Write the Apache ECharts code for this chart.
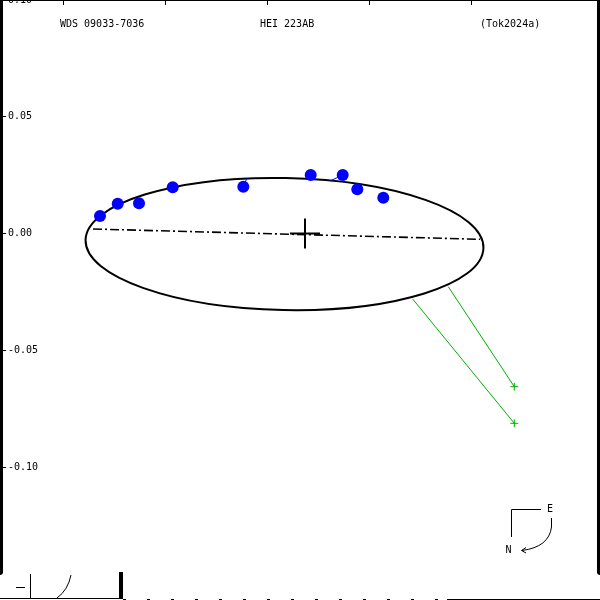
<!DOCTYPE html>
<html>
<head>
<meta charset="utf-8">
<script src="https://cdn.jsdelivr.net/npm/echarts@6/dist/echarts.min.js"></script>
<style>html,body{margin:0;padding:0;background:#fff}#c{width:600px;height:600px}</style>
</head>
<body>
<div id="c"></div>
<script>
// ---- data (arcsec) ----
var titleLeft = 'WDS 09033-7036';
var titleMid = 'HEI 223AB';
var titleRight = '(Tok2024a)';
var yTickValues = [0.10, 0.05, 0.00, -0.05, -0.10];
var xTickValues = [-0.10364, -0.05996, -0.01627, 0.02741, 0.07109];
// orbit ellipse: centre x, centre y, semi-axis x, semi-axis y, tilt (deg, anticlockwise)
var orbitEllipse = [[-0.00878, -0.0045, 0.08522, 0.02827, -1.13]];
var lineOfNodes = [[-0.09079, 0.00193], [0.07495, -0.00248]];
var primary = [[0, 0]];
var observations = [
  [-0.08779, 0.00749], [-0.08021, 0.01276], [-0.07109, 0.01293],
  [-0.05666, 0.01979], [-0.02642, 0.02004], [0.00244, 0.02505],
  [0.01615, 0.02505], [0.02240, 0.01893], [0.03353, 0.01533]
];
var residuals = [
  [[-0.02642, 0.02004], [-0.02484, 0.02377]],
  [[0.01615, 0.02505], [0.01071, 0.02248]]
];
var greenLinks = [
  [[0.04612, -0.02805], [0.08964, -0.08129]],
  [[0.06137, -0.02278], [0.08964, -0.06561]]
];
var greenPoints = [[0.08964, -0.08129], [0.08964, -0.06561]];

var xMin = -0.130621, xMax = 0.126338, yMin = -0.144968, yMax = 0.10;
var FONT = 'DejaVu Sans Mono';

function plusRenderer(half, color, width) {
  return function (params, api) {
    var p = api.coord([api.value(0), api.value(1)]);
    return {
      type: 'group',
      children: [
        {type: 'line', shape: {x1: p[0] - half, y1: p[1], x2: p[0] + half, y2: p[1]}, style: {stroke: color, lineWidth: width}},
        {type: 'line', shape: {x1: p[0], y1: p[1] - half, x2: p[0], y2: p[1] + half}, style: {stroke: color, lineWidth: width}}
      ]
    };
  };
}

var chart = echarts.init(document.getElementById('c'), null, {renderer: 'canvas'});
chart.setOption({
  animation: false,
  backgroundColor: '#fff',
  grid: {left: 0, right: 0, top: 0, bottom: 28, outerBoundsMode: 'none', containLabel: false},
  xAxis: [
    {type: 'value', min: xMin, max: xMax, show: false, splitLine: {show: false}},
    {type: 'value', min: xMin, max: xMax, position: 'top',
      axisLine: {show: true, onZero: false, lineStyle: {color: '#000', width: 2}},
      axisTick: {show: true, inside: true, length: 5, customValues: xTickValues, lineStyle: {color: '#000', width: 1}},
      axisLabel: {show: false}, splitLine: {show: false}}
  ],
  yAxis: [
    {type: 'value', min: yMin, max: yMax, position: 'left',
      axisLine: {show: true, onZero: false, lineStyle: {color: '#000', width: 6}},
      axisTick: {show: true, inside: true, length: 6, customValues: yTickValues, lineStyle: {color: '#000', width: 1}},
      axisLabel: {show: true, inside: true, margin: 8, customValues: yTickValues, color: '#000',
        fontFamily: FONT, fontSize: 10,
        formatter: function (v) { return v.toFixed(2); }},
      splitLine: {show: false}},
    {type: 'value', min: yMin, max: yMax, position: 'right',
      axisLine: {show: true, onZero: false, lineStyle: {color: '#000', width: 6}},
      axisTick: {show: false}, axisLabel: {show: false}, splitLine: {show: false}}
  ],
  series: [
    {
      type: 'custom', name: 'orbit', data: orbitEllipse, silent: true,
      renderItem: function (params, api) {
        var c = api.coord([api.value(0), api.value(1)]);
        var s = api.size([api.value(2), api.value(3)]);
        return {
          type: 'ellipse', x: c[0], y: c[1], rotation: api.value(4) * Math.PI / 180,
          shape: {cx: 0, cy: 0, rx: s[0], ry: s[1]},
          style: {fill: null, stroke: '#000', lineWidth: 2}
        };
      },
      z: 3
    },
    {
      type: 'line', name: 'nodes', data: lineOfNodes, symbol: 'none', silent: true,
      lineStyle: {color: '#000', width: 1.6, type: [9, 3, 2, 3]}, z: 2
    },
    {
      type: 'custom', name: 'primary', data: primary, renderItem: plusRenderer(15, '#000', 2), z: 4
    },
    {
      type: 'lines', coordinateSystem: 'cartesian2d', name: 'residuals', silent: true,
      data: residuals.map(function (r) { return {coords: r}; }),
      lineStyle: {color: '#0000ff', width: 1, opacity: 1}, z: 4
    },
    {
      type: 'scatter', name: 'obs', data: observations, symbol: 'circle', symbolSize: 12,
      itemStyle: {color: '#0000ff', opacity: 1}, z: 5
    },
    {
      type: 'lines', coordinateSystem: 'cartesian2d', name: 'links', silent: true,
      data: greenLinks.map(function (r) { return {coords: r}; }),
      lineStyle: {color: '#00b000', width: 1, opacity: 1}, z: 4
    },
    {
      type: 'custom', name: 'green', data: greenPoints, renderItem: plusRenderer(4, '#00b000', 1), z: 4
    }
  ],
  graphic: [
    {type: 'text', x: 60, y: 24.5, style: {text: titleLeft, font: '10px "' + FONT + '"', fill: '#000', verticalAlign: 'middle'}},
    {type: 'text', x: 260, y: 24.5, style: {text: titleMid, font: '10px "' + FONT + '"', fill: '#000', verticalAlign: 'middle'}},
    {type: 'text', x: 480, y: 24.5, style: {text: titleRight, font: '10px "' + FONT + '"', fill: '#000', verticalAlign: 'middle'}},
    // compass
    {type: 'polyline', shape: {points: [[541, 509.5], [511.5, 509.5], [511.5, 537]]}, style: {stroke: '#000', lineWidth: 1, fill: null}},
    {type: 'text', x: 550, y: 509.5, style: {text: 'E', font: '10px "' + FONT + '"', fill: '#000', align: 'center', verticalAlign: 'middle'}},
    {type: 'text', x: 508.5, y: 550, style: {text: 'N', font: '10px "' + FONT + '"', fill: '#000', align: 'center', verticalAlign: 'middle'}},
    {type: 'line', shape: {x1: 551.5, y1: 518, x2: 551.5, y2: 527}, style: {stroke: '#000', lineWidth: 1}},
    {type: 'bezierCurve', shape: {x1: 551.5, y1: 527, cpx1: 549, cpy1: 547, x2: 522, y2: 550.5}, style: {stroke: '#000', lineWidth: 1, fill: null}},
    {type: 'polyline', shape: {points: [[526, 547.5], [521.5, 550.5], [526, 553]]}, style: {stroke: '#000', lineWidth: 1, fill: null}},
    // bottom remnants
    {type: 'line', shape: {x1: 0, y1: 598.5, x2: 120, y2: 598.5}, style: {stroke: '#000', lineWidth: 1}},
    {type: 'rect', shape: {x: 119, y: 572, width: 4, height: 27}, style: {fill: '#000'}},
    {type: 'line', shape: {x1: 30.5, y1: 574, x2: 30.5, y2: 598}, style: {stroke: '#000', lineWidth: 1}},
    {type: 'line', shape: {x1: 16, y1: 587.5, x2: 25, y2: 587.5}, style: {stroke: '#000', lineWidth: 1}},
    {type: 'bezierCurve', shape: {x1: 57, y1: 598, cpx1: 68, cpy1: 590, x2: 71, y2: 575}, style: {stroke: '#000', lineWidth: 1, fill: null}},
    {type: 'line', shape: {x1: 123, y1: 599.5, x2: 447, y2: 599.5}, style: {stroke: '#000', lineWidth: 1, lineDash: [3, 21]}},
    {type: 'line', shape: {x1: 447, y1: 599.5, x2: 600, y2: 599.5}, style: {stroke: '#000', lineWidth: 1}}
  ]
});
</script>
</body>
</html>
